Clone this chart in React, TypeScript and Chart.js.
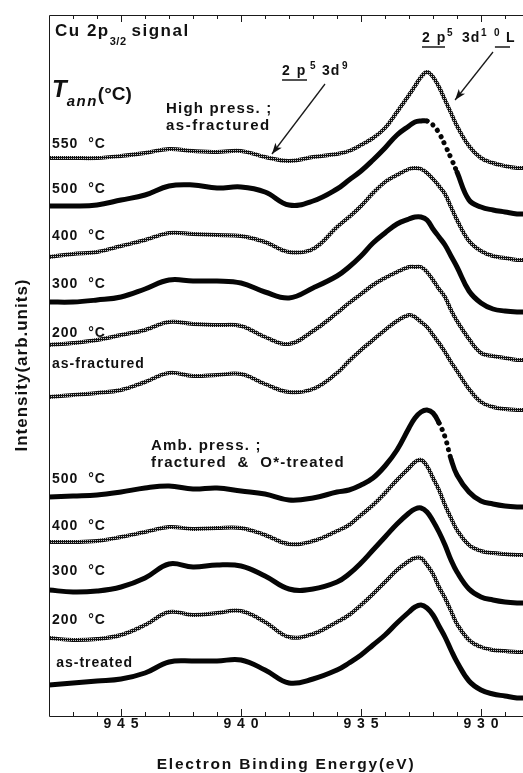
import React, { useEffect, useRef } from 'react';
import { Chart, registerables } from 'chart.js';

Chart.register(...registerables);

// Electron binding energy grid (eV)
const energy = [948, 947, 946, 945, 944, 943, 942, 941, 940, 939, 938, 937, 936, 935.5, 935, 934.5, 934, 933.5, 933, 932.75, 932.5, 932.25, 932, 931.75, 931.5, 931.25, 931, 930.5, 930, 929.5, 929, 928.5, 928.25];

// High pressure ; as-fractured group (offset intensities, arb. units)
const hp550 = [55.8, 55.8, 55.8, 56.0, 56.3, 56.7, 56.5, 56.4, 56.5, 55.9, 55.5, 55.9, 56.2, 56.5, 57.1, 57.8, 58.8, 60.4, 62.1, 63.0, 63.9, 64.4, 63.9, 62.9, 61.6, 60.3, 59.0, 57.0, 55.8, 55.3, 55.0, 54.8, 54.8];
const hp500 = [51.0, 51.0, 51.1, 51.6, 52.1, 53.0, 53.1, 52.8, 52.9, 52.4, 51.1, 51.5, 52.7, 53.6, 54.5, 55.6, 56.8, 58.1, 59.0, 59.4, 59.5, 59.5, 59.1, 58.3, 57.1, 55.8, 54.4, 51.6, 50.9, 50.6, 50.4, 50.2, 50.2];
const hp400 = [45.9, 46.2, 46.4, 47.0, 47.6, 48.3, 48.2, 48.1, 48.0, 47.4, 46.4, 46.7, 48.9, 49.9, 51.0, 52.3, 53.4, 54.1, 54.7, 54.8, 54.7, 54.3, 53.7, 53.0, 52.2, 50.9, 49.6, 47.5, 46.5, 46.0, 45.8, 45.6, 45.6];
const hp300 = [41.4, 41.4, 41.6, 41.9, 42.7, 43.6, 43.5, 43.5, 43.3, 42.4, 41.8, 42.8, 44.0, 44.9, 46.0, 47.3, 48.3, 49.2, 49.7, 49.9, 49.9, 49.6, 48.7, 47.9, 47.1, 46.0, 44.9, 42.5, 41.3, 40.7, 40.5, 40.4, 40.4];
const hp200 = [37.1, 37.3, 37.6, 38.1, 38.6, 39.4, 39.2, 39.1, 39.0, 37.9, 37.2, 38.5, 40.3, 41.3, 42.2, 43.1, 43.8, 44.4, 44.9, 44.9, 44.9, 44.4, 43.6, 42.7, 41.9, 40.6, 39.5, 37.7, 36.3, 36.0, 35.8, 35.6, 35.6];
const hpAsFractured = [31.9, 32.1, 32.3, 32.6, 33.4, 34.3, 34.0, 34.1, 34.2, 33.2, 32.4, 32.7, 34.3, 35.5, 36.6, 37.6, 38.6, 39.5, 40.1, 39.9, 39.4, 38.9, 38.1, 37.3, 36.4, 35.4, 34.5, 32.7, 31.4, 30.9, 30.7, 30.6, 30.6];

// Ambient pressure ; fractured & O*-treated group
const ap500 = [21.9, 22.0, 22.1, 22.4, 22.8, 23.0, 22.7, 22.8, 22.5, 22.2, 21.6, 21.8, 22.4, 22.6, 23.1, 23.8, 25.0, 26.6, 28.8, 29.8, 30.4, 30.6, 30.3, 29.3, 27.9, 25.7, 24.1, 22.4, 21.5, 21.2, 21.0, 20.9, 20.9];
const ap400 = [17.4, 17.4, 17.5, 17.9, 18.4, 18.9, 18.7, 18.8, 18.8, 18.1, 17.2, 17.5, 18.5, 19.1, 20.1, 21.1, 22.3, 23.6, 24.8, 25.4, 25.6, 25.0, 23.8, 22.6, 21.1, 19.8, 18.6, 17.1, 16.5, 16.3, 16.2, 16.1, 16.1];
const ap300 = [12.6, 12.4, 12.5, 12.9, 13.8, 15.2, 14.9, 15.1, 15.0, 14.0, 12.7, 12.7, 13.4, 14.2, 15.3, 16.6, 17.9, 19.2, 20.3, 20.7, 20.8, 20.4, 19.5, 18.4, 17.1, 15.6, 14.4, 12.7, 11.9, 11.6, 11.4, 11.3, 11.3];
const ap200 = [7.8, 7.6, 7.7, 8.1, 9.1, 10.4, 10.1, 10.3, 10.5, 9.4, 7.9, 8.2, 9.4, 10.1, 11.1, 12.2, 13.4, 14.6, 15.5, 15.8, 15.8, 15.1, 14.2, 12.9, 11.8, 10.5, 9.2, 7.6, 6.9, 6.6, 6.5, 6.4, 6.4];
const apAsTreated = [3.1, 3.3, 3.5, 3.7, 4.3, 5.4, 5.5, 5.5, 5.6, 4.6, 3.3, 3.7, 4.6, 5.3, 6.1, 7.1, 8.1, 9.3, 10.4, 10.9, 11.1, 10.8, 10.1, 9.0, 7.9, 6.6, 5.4, 3.5, 2.6, 2.2, 2.0, 1.8, 1.8];

const seriesNames = ['HP 550', 'HP 500', 'HP 400', 'HP 300', 'HP 200', 'HP as-fractured', 'AP 500', 'AP 400', 'AP 300', 'AP 200', 'AP as-treated'];
const seriesValues = [hp550, hp500, hp400, hp300, hp200, hpAsFractured, ap500, ap400, ap300, ap200, apAsTreated];
const seriesSolid = [false, true, false, true, false, false, true, false, true, false, true];
// energy range (high, low) where the sparse, separated data dots show on the steep side
const sparseRanges: ([number, number] | null)[] = [null, [932.25, 931.0], null, null, null, null, [931.75, 931.25], null, null, null, null];

// Curve labels: [text, energy, intensity]
const curveLabels: [string, number, number][] = [
  ['550  °C', 947.875, 56.8],
  ['500  °C', 947.875, 52.3],
  ['400  °C', 947.875, 47.6],
  ['300  °C', 947.875, 42.8],
  ['200  °C', 947.875, 37.9],
  ['as-fractured', 947.875, 34.8],
  ['500  °C', 947.875, 23.3],
  ['400  °C', 947.875, 18.6],
  ['300  °C', 947.875, 14.1],
  ['200  °C', 947.875, 9.2],
  ['as-treated', 947.7, 4.9],
];

const xMin = 928.25;
const xMax = 948;
const yMin = 0;
const yMax = 70.1;
const majorTicks = [945, 940, 935, 930];

const FONT = '"Liberation Sans", Arial, Helvetica, sans-serif';

function makeHatch(ctx: CanvasRenderingContext2D) {
  const c = document.createElement('canvas');
  c.width = 2;
  c.height = 2;
  const g = c.getContext('2d')!;
  g.fillStyle = '#111';
  g.fillRect(0, 0, 2, 2);
  g.fillStyle = '#c8c8c8';
  g.fillRect(1, 0, 1, 1);
  return ctx.createPattern(c, 'repeat');
}

function txt(ctx: any, s: string, x: number, y: number, size: number, ls = 0, style = 'bold', align: CanvasTextAlign = 'left') {
  ctx.font = `${style} ${size}px ${FONT}`;
  ctx.letterSpacing = `${ls}px`;
  ctx.textAlign = align;
  ctx.textBaseline = 'alphabetic';
  ctx.fillText(s, x, y);
  return ctx.measureText(s).width;
}

function arrow(ctx: CanvasRenderingContext2D, x1: number, y1: number, x2: number, y2: number) {
  ctx.beginPath();
  ctx.moveTo(x1, y1);
  ctx.lineTo(x2, y2);
  ctx.lineWidth = 1.3;
  ctx.stroke();
  const a = Math.atan2(y2 - y1, x2 - x1);
  const L = 11, W = 4;
  ctx.beginPath();
  ctx.moveTo(x2, y2);
  ctx.lineTo(x2 - L * Math.cos(a) + W * Math.sin(a), y2 - L * Math.sin(a) - W * Math.cos(a));
  ctx.lineTo(x2 - L * 0.75 * Math.cos(a), y2 - L * 0.75 * Math.sin(a));
  ctx.lineTo(x2 - L * Math.cos(a) - W * Math.sin(a), y2 - L * Math.sin(a) + W * Math.cos(a));
  ctx.closePath();
  ctx.fill();
}

const overlay = {
  id: 'overlay',
  afterDraw(chart: any) {
    const { ctx, chartArea: ca, scales } = chart;
    const xs = scales.x;
    const ys = scales.y;
    const X = (e: number) => xs.getPixelForValue(e);
    const Y = (v: number) => ys.getPixelForValue(v);
    ctx.save();
    ctx.strokeStyle = '#1a1a1a';
    ctx.fillStyle = '#111';
    ctx.lineWidth = 1;
    // frame
    ctx.beginPath();
    ctx.moveTo(ca.right, Math.round(ca.top) + 0.5);
    ctx.lineTo(Math.round(ca.left) + 0.5, Math.round(ca.top) + 0.5);
    ctx.lineTo(Math.round(ca.left) + 0.5, Math.round(ca.bottom) + 0.5);
    ctx.lineTo(ca.right, Math.round(ca.bottom) + 0.5);
    ctx.stroke();
    // inward ticks
    ctx.beginPath();
    for (let e = Math.ceil(xMin); e < xMax; e++) {
      const px = Math.round(X(e)) + 0.5;
      const len = e % 5 === 0 ? 7 : 4;
      ctx.moveTo(px, ca.bottom);
      ctx.lineTo(px, ca.bottom - len);
      ctx.moveTo(px, ca.top);
      ctx.lineTo(px, ca.top + len);
    }
    ctx.stroke();
    // tick labels, spaced digits
    for (const t of majorTicks) {
      const s = String(t);
      const cx = X(t);
      for (let i = 0; i < s.length; i++) {
        txt(ctx, s[i], cx + (i - (s.length - 1) / 2) * 13.7, ca.bottom + 12, 14, 0, 'bold', 'center');
      }
    }
    // axis titles
    txt(ctx, 'Electron Binding Energy(eV)', 286, 769, 15.5, 1.8, 'bold', 'center');
    ctx.save();
    ctx.translate(27, 365);
    ctx.rotate(-Math.PI / 2);
    txt(ctx, 'Intensity(arb.units)', 0, 0, 17, 1, 'bold', 'center');
    ctx.restore();

    // curve labels
    curveLabels.forEach(([s, e, v]) => {
      txt(ctx, s, X(e), Y(v), 14, 1);
    });

    // title "Cu 2p3/2 signal"
    {
      let x = X(947.75);
      const y = Y(68.0);
      x += txt(ctx, 'Cu 2p', x, y, 17, 1.5);
      x += txt(ctx, '3/2', x, y + 9, 11, 0.5) + 5;
      txt(ctx, 'signal', x, y, 17, 1.5);
    }
    // T_ann(°C)
    {
      let x = X(947.875);
      const y = Y(61.9);
      x += txt(ctx, 'T', x, y, 24, 0, 'italic bold');
      x += txt(ctx, 'ann', x, y + 9, 15, 1.5, 'italic bold');
      txt(ctx, '(°C)', x, y + 3, 19, 0);
    }
    // group headings
    txt(ctx, 'High press. ;', X(943.125), Y(60.3), 15, 1.2);
    txt(ctx, 'as-fractured', X(943.125), Y(58.65), 15, 1.5);
    txt(ctx, 'Amb. press. ;', X(943.75), Y(26.6), 15, 1.2);
    txt(ctx, 'fractured  &  O*-treated', X(943.75), Y(24.9), 15, 1.2);

    // peak labels: 2p5 3d9
    txt(ctx, '2 p', X(938.29), Y(64.1), 14, 1.5);
    txt(ctx, '5', X(937.125), Y(64.7), 10, 0);
    txt(ctx, '3d', X(936.625), Y(64.1), 14, 1);
    txt(ctx, '9', X(935.79), Y(64.7), 10, 0);
    // 2p5 3d10 L
    txt(ctx, '2 p', X(932.46), Y(67.4), 14, 1.5);
    txt(ctx, '5', X(931.42), Y(68.0), 10, 0);
    txt(ctx, '3d', X(930.79), Y(67.4), 14, 1);
    txt(ctx, '1', X(930.0), Y(68.0), 10, 0);
    txt(ctx, '0', X(929.46), Y(68.0), 10, 0);
    txt(ctx, 'L', X(928.96), Y(67.4), 14, 0);
    ctx.lineWidth = 1.5;
    ctx.beginPath();
    ctx.moveTo(X(938.29), Y(63.6));
    ctx.lineTo(X(937.25), Y(63.6));
    ctx.moveTo(X(932.46), Y(66.9));
    ctx.lineTo(X(931.5), Y(66.9));
    ctx.moveTo(X(929.42), Y(66.9));
    ctx.lineTo(X(928.79), Y(66.9));
    ctx.stroke();
    // arrows
    arrow(ctx, X(936.5), Y(63.2), X(938.71), Y(56.2));
    arrow(ctx, X(929.5), Y(66.4), X(931.08), Y(61.6));
    ctx.restore();
  },
};

export default function App() {
  const ref = useRef<HTMLCanvasElement>(null);
  useEffect(() => {
    const canvas = ref.current!;
    const ctx = canvas.getContext('2d')!;
    const hatch = makeHatch(ctx);
    const datasets = seriesValues.map((vals, i) => {
      const rng = sparseRanges[i];
      return {
        label: seriesNames[i],
        data: energy.map((e, j) => ({ x: e, y: vals[j] })),
        borderColor: seriesSolid[i] ? '#050505' : (hatch as any),
        borderWidth: seriesSolid[i] ? 5 : 4,
        pointRadius: 0,
        fill: false,
        tension: 0.4,
        borderJoinStyle: 'round' as const,
        borderCapStyle: 'round' as const,
        segment: {
          borderDash: (sc: any) =>
            rng && sc.p0.parsed.x <= rng[0] && sc.p1.parsed.x >= rng[1] ? [0.1, 7] : undefined,
        },
      };
    });
    const chart = new Chart(canvas, {
      type: 'line',
      data: { datasets },
      options: {
        responsive: false,
        maintainAspectRatio: false,
        animation: false,
        events: [],
        layout: { padding: { top: 15, right: 0, bottom: 0, left: 0 } },
        plugins: { legend: { display: false }, tooltip: { enabled: false } },
        scales: {
          x: {
            type: 'linear',
            reverse: true,
            min: xMin,
            max: xMax,
            grid: { display: false },
            border: { display: false },
            ticks: { display: false },
            afterFit: (s: any) => { s.height = 57; },
          },
          y: {
            type: 'linear',
            min: yMin,
            max: yMax,
            grid: { display: false },
            border: { display: false },
            ticks: { display: false },
            afterFit: (s: any) => { s.width = 49; },
          },
        },
      },
      plugins: [overlay],
    });
    return () => chart.destroy();
  }, []);
  return (
    <div style={{ position: 'absolute', left: 0, top: 0, width: 523, height: 773, background: '#fff' }}>
      <canvas ref={ref} width={523} height={773} style={{ display: 'block' }} />
    </div>
  );
}
